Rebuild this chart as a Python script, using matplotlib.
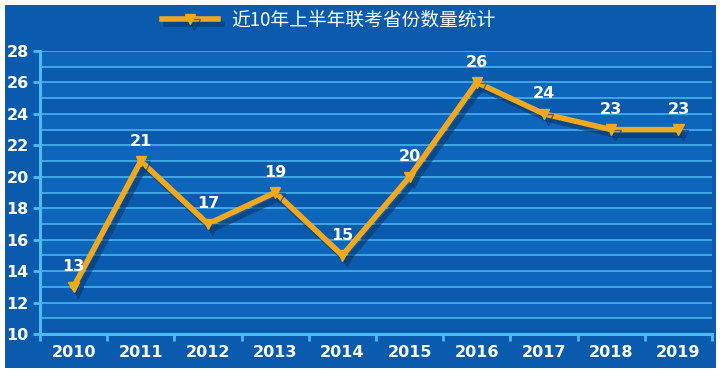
import numpy as np
import matplotlib.pyplot as plt
import matplotlib.patheffects as pe
from matplotlib.patches import Rectangle

plt.rcParams['font.family'] = ['Noto Sans CJK SC', 'DejaVu Sans']

years = ['2010', '2011', '2012', '2013', '2014', '2015', '2016', '2017', '2018', '2019']
counts = [13, 21, 17, 19, 15, 20, 26, 24, 23, 23]
title = '近10年上半年联考省份数量统计'

bg = '#0a5aad'
band = '#0d66bb'
grid_c = '#4cbcf0'
line_c = '#f2a81d'

fig = plt.figure(figsize=(7.26, 3.78), dpi=100)
fig.patch.set_facecolor('white')
fig.patches.append(Rectangle((5 / 726, 1 - 368 / 378), 711 / 726, 363 / 378,
                             transform=fig.transFigure, facecolor=bg, edgecolor='none', zorder=-10))

ax = fig.add_axes([40 / 726, 1 - 334 / 378, 672 / 726, 283 / 378])
ax.set_facecolor(bg)
x = np.arange(len(years))
ax.set_xlim(-0.5, len(years) - 0.5)
ax.set_ylim(10, 28)

# alternating bands and gridlines every unit
for v in range(10, 28):
    if v % 2 == 1:
        ax.axhspan(v, v + 1, color=band, zorder=0, lw=0)
for v in range(11, 29):
    ax.axhline(v, color=grid_c, lw=1.1, zorder=1)

shadow = [pe.SimpleLineShadow(offset=(3, -4), shadow_color='#06376b', alpha=0.6), pe.Normal()]
ax.plot(x, counts, color=line_c, lw=4, marker='v', markersize=7.5,
        markerfacecolor=line_c, markeredgecolor=line_c, zorder=3,
        solid_joinstyle='miter', path_effects=shadow, label=title)

for xi, c in zip(x, counts):
    ax.annotate(str(c), (xi, c), xytext=(0, 9), textcoords='offset points',
                ha='center', va='bottom', color='white', fontsize=11.5,
                fontweight='bold', family='DejaVu Sans', zorder=4)

ax.set_xticks(x)
ax.set_xticklabels(years)
ax.set_xticks(np.arange(-0.5, len(years), 1), minor=True)
ax.tick_params(axis='x', which='major', length=0, pad=8)
ax.tick_params(axis='x', which='minor', length=5, width=2, color=grid_c, direction='out')
ax.set_yticks(range(10, 29, 2))
ax.tick_params(axis='y', length=5, width=2, color=grid_c, pad=3)
for lab in ax.get_xticklabels() + ax.get_yticklabels():
    lab.set_color('white')
    lab.set_fontweight('bold')
    lab.set_fontsize(11.5)
    lab.set_family('DejaVu Sans')

for s in ['top', 'right']:
    ax.spines[s].set_visible(False)
for s in ['left', 'bottom']:
    ax.spines[s].set_color(grid_c)
    ax.spines[s].set_linewidth(2.2)

leg = fig.legend(loc='center', bbox_to_anchor=(0.453, 1 - 20 / 378), frameon=False,
                 handlelength=3.0, handletextpad=0.7, fontsize=13.5)
for t in leg.get_texts():
    t.set_color('white')

fig.savefig('out.png', dpi=100, facecolor='white')
